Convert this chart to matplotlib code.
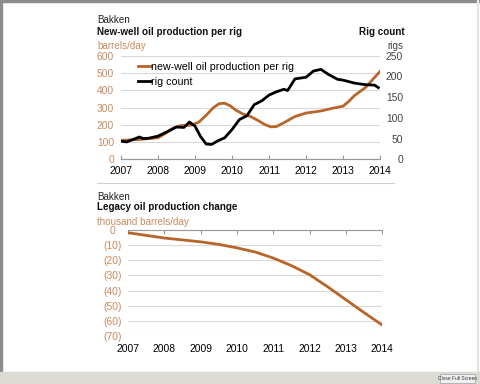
import matplotlib
matplotlib.use("Agg")
import matplotlib.pyplot as plt
from matplotlib.patches import Rectangle

plt.rcParams["font.family"] = ["Liberation Sans", "DejaVu Sans"]

# new-well oil production per rig (barrels/day)
prod_t = [2007.0, 2007.5, 2008.0, 2008.2, 2008.4, 2008.6, 2008.9, 2009.1, 2009.3, 2009.5,
          2009.65, 2009.8, 2009.95, 2010.1, 2010.3, 2010.5, 2010.7, 2010.9, 2011.05, 2011.2,
          2011.4, 2011.7, 2012.0, 2012.4, 2012.7, 2013.0, 2013.15, 2013.3, 2013.6, 2014.0]
prod_v = [110, 115, 125, 150, 180, 195, 198, 215, 255, 300,
          322, 325, 310, 285, 262, 248, 225, 200, 188, 190,
          212, 248, 268, 280, 295, 308, 335, 368, 415, 510]

# rig count (rigs)
rig_t = [2007.0, 2007.15, 2007.3, 2007.5, 2007.6, 2007.75, 2008.0, 2008.3, 2008.5, 2008.7,
         2008.85, 2009.0, 2009.15, 2009.3, 2009.45, 2009.6, 2009.8, 2010.0, 2010.2, 2010.4,
         2010.6, 2010.8, 2011.0, 2011.2, 2011.4, 2011.5, 2011.7, 2012.0, 2012.2, 2012.4,
         2012.6, 2012.85, 2013.0, 2013.3, 2013.6, 2013.85, 2013.95]
rig_v = [44, 42, 47, 54, 50, 51, 56, 69, 78, 77,
         90, 80, 55, 37, 36, 44, 52, 72, 96, 105,
         132, 141, 155, 163, 169, 166, 194, 198, 213, 217,
         205, 193, 191, 184, 180, 179, 173]

# legacy oil production change (thousand barrels/day)
leg_t = [2007.0, 2008.0, 2009.0, 2009.5, 2010.0, 2010.5, 2011.0, 2011.5, 2012.0, 2012.5, 2013.0, 2013.5, 2014.0]
leg_v = [-1.8, -5.3, -7.8, -9.5, -11.8, -14.5, -18.5, -23.5, -29.5, -37.5, -46.0, -54.5, -62.7]

years = [2007, 2008, 2009, 2010, 2011, 2012, 2013, 2014]
left_ticks = [0, 100, 200, 300, 400, 500, 600]
right_ticks = [0, 50, 100, 150, 200, 250]
leg_ticks = [0, -10, -20, -30, -40, -50, -60, -70]
leg_labels = ["0", "(10)", "(20)", "(30)", "(40)", "(50)", "(60)", "(70)"]

orange = "#B8652A"
lab_orange = "#C98A5E"
grid_c = "#D9D9D9"
axis_c = "#9A9A9A"
fs = 7.4
tfs = 7.1

fig = plt.figure(figsize=(4.8, 3.84), dpi=100)

# screen frame
fig.patches.append(Rectangle((0, 0.994), 1, 0.006, transform=fig.transFigure, color="#8C8C8C", zorder=0))
fig.patches.append(Rectangle((0, 0), 0.004, 1, transform=fig.transFigure, color="#8C8C8C", zorder=0))
fig.patches.append(Rectangle((0.993, 0.03), 0.003, 0.97, transform=fig.transFigure, color="#E6E6E6", zorder=0))
fig.patches.append(Rectangle((0, 0), 1, 0.03, transform=fig.transFigure, color="#DCDAD4", zorder=0))
fig.patches.append(Rectangle((0.917, 0.003), 0.072, 0.024, transform=fig.transFigure,
                             facecolor="#F0F0F0", edgecolor="#A0A0A0", lw=0.5, zorder=1))
fig.text(0.953, 0.015, "Close Full Screen", fontsize=3.5, ha="center", va="center", color="#333333")

# ---- top chart ----
ax = fig.add_axes([0.252, 0.585, 0.54, 0.27])
ax2 = ax.twinx()
ax.plot(prod_t, prod_v, color=orange, lw=2, label="new-well oil production per rig", zorder=3)
ax2.plot(rig_t, rig_v, color="black", lw=2, label="rig count", zorder=3)
ax.set_xlim(2007, 2014)
ax.set_ylim(0, 600)
ax2.set_ylim(0, 250)
ax.set_yticks(left_ticks)
ax2.set_yticks(right_ticks)
ax.set_xticks(years)
ax.grid(axis="y", color=grid_c, lw=0.8)
ax.set_axisbelow(True)
for a in (ax, ax2):
    for s in ("top", "left", "right"):
        a.spines[s].set_visible(False)
    a.spines["bottom"].set_color(axis_c)
ax.tick_params(axis="y", length=0, labelsize=fs, labelcolor=lab_orange, pad=5)
ax2.tick_params(axis="y", length=0, labelsize=fs, labelcolor="#444444", pad=16.5)
for lbl in ax2.get_yticklabels():
    lbl.set_horizontalalignment("right")
ax.tick_params(axis="x", direction="in", length=3, color=axis_c, labelsize=fs, pad=5)
h1, l1 = ax.get_legend_handles_labels()
h2, l2 = ax2.get_legend_handles_labels()
ax2.legend(h1 + h2, l1 + l2, loc="upper left", bbox_to_anchor=(0.03, 1.03), frameon=False,
           fontsize=fs + 0.3, handlelength=1.2, handletextpad=0.0, labelspacing=0.45)

fig.text(0.202, 0.948, "Bakken", fontsize=tfs, color="#222222", va="center")
fig.text(0.202, 0.917, "New-well oil production per rig", fontsize=tfs, fontweight="bold",
         color="#111111", va="center")
fig.text(0.202, 0.880, "barrels/day", fontsize=tfs, color=lab_orange, va="center")
fig.text(0.844, 0.917, "Rig count", fontsize=tfs, fontweight="bold", color="#111111",
         ha="right", va="center")
fig.text(0.84, 0.880, "rigs", fontsize=tfs, color="#444444", ha="right", va="center")

# separator
fig.add_artist(plt.Line2D([0.202, 0.82], [0.523, 0.523], color="#D0D0D0", lw=0.8))

# ---- bottom chart ----
bx = fig.add_axes([0.267, 0.125, 0.529, 0.276])
bx.plot(leg_t, leg_v, color=orange, lw=2, zorder=3)
bx.set_xlim(2007, 2014)
bx.set_ylim(-70, 0)
bx.set_yticks(leg_ticks)
bx.set_yticklabels(leg_labels)
bx.set_xticks(years)
bx.grid(axis="y", color=grid_c, lw=0.8)
bx.set_axisbelow(True)
for s in ("bottom", "left", "right"):
    bx.spines[s].set_visible(False)
bx.spines["top"].set_color(axis_c)
bx.xaxis.set_ticks_position("top")
bx.tick_params(axis="x", direction="in", length=3, color=axis_c, labelsize=fs,
               labeltop=False, labelbottom=True, pad=6)
bx.tick_params(axis="y", length=0, labelsize=fs, labelcolor=lab_orange, pad=11.5)
for lbl in bx.get_yticklabels():
    lbl.set_horizontalalignment("center")

fig.text(0.202, 0.487, "Bakken", fontsize=tfs, color="#222222", va="center")
fig.text(0.202, 0.461, "Legacy oil production change", fontsize=tfs, fontweight="bold",
         color="#111111", va="center")
fig.text(0.202, 0.422, "thousand barrels/day", fontsize=tfs, color=lab_orange, va="center")

fig.savefig("out.png", dpi=100)
